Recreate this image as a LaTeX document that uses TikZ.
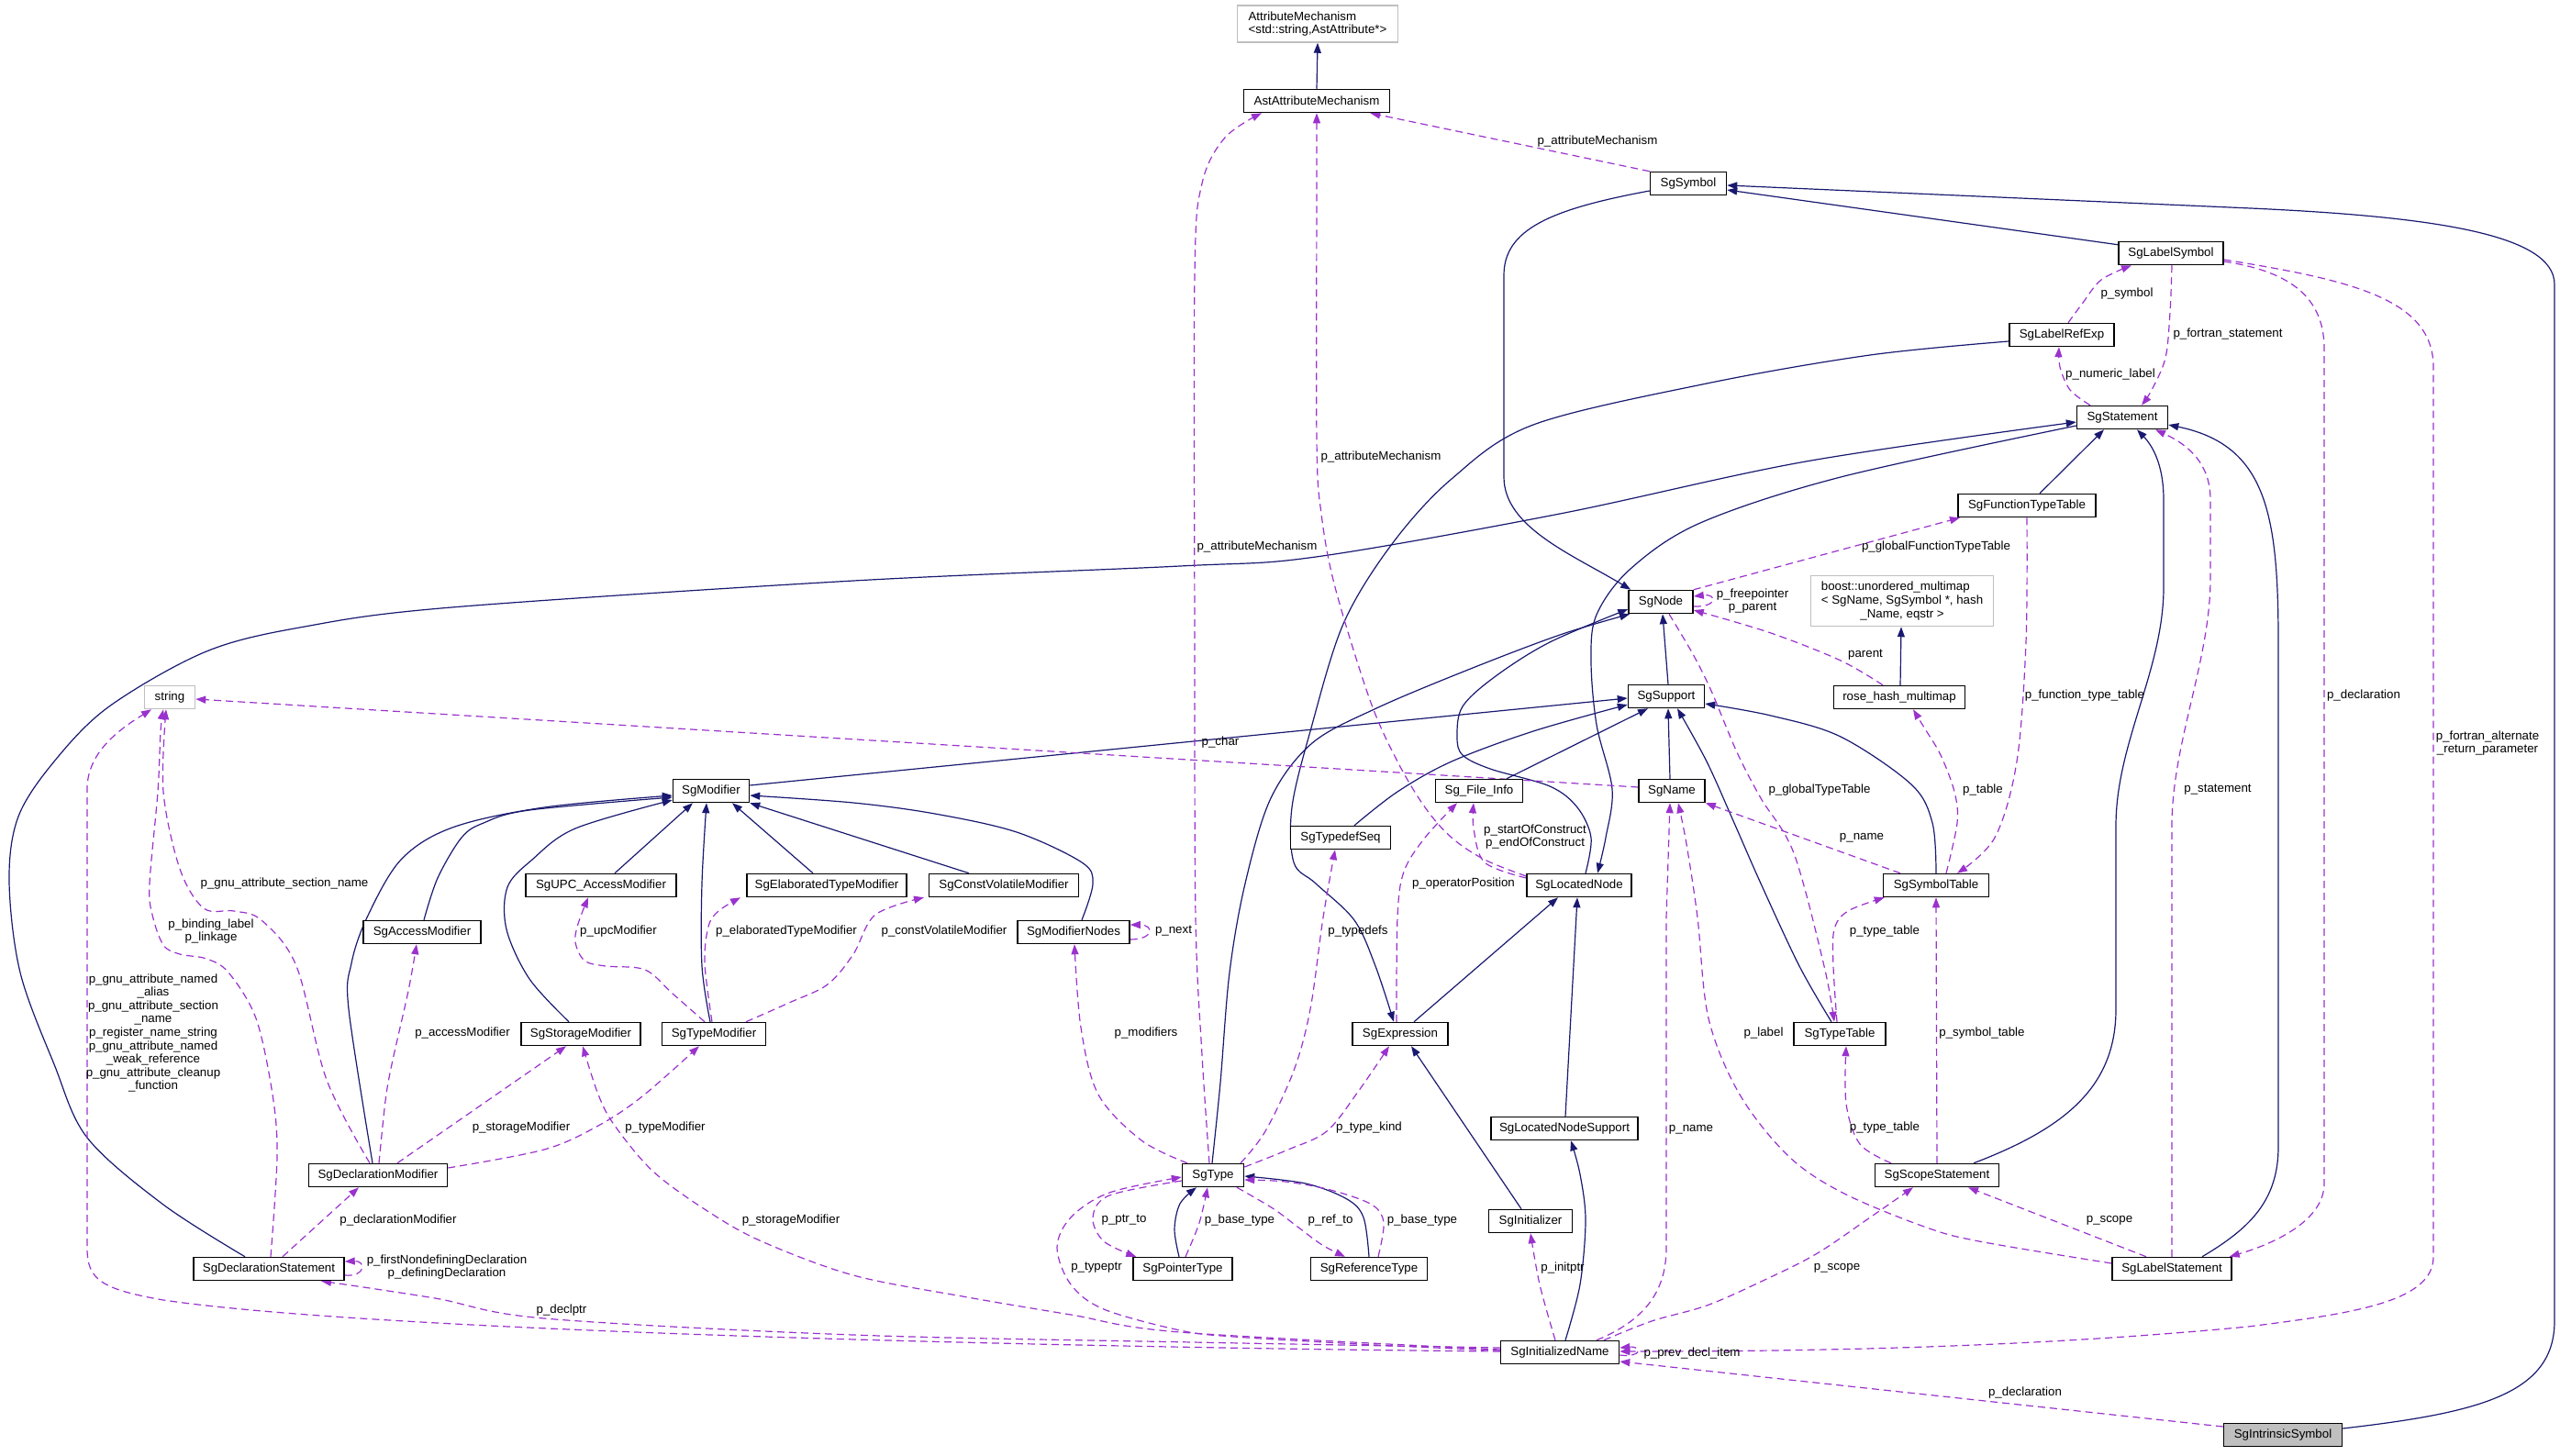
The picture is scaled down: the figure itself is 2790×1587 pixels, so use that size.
\documentclass[tikz,border=0pt]{standalone}
\usepackage{fontspec}
\setmainfont{Liberation Sans}
\usetikzlibrary{arrows.meta}
\definecolor{navyc}{HTML}{191970}
\definecolor{purp}{HTML}{9A32CD}
\newcommand\dfont{\fontsize{13.3}{14.6}\selectfont}
\pgfdeclarelayer{edges}
\pgfsetlayers{edges,main}
\tikzset{
  box/.style={draw=black, line width=1.5pt, fill=white, minimum height=25pt, inner sep=0pt, font=\dfont},
  gbox/.style={box, draw=black!25},
  lbl/.style={inner sep=0pt, font=\dfont, align=center},
  inh/.style={draw=navyc, line width=1.2pt, -{Triangle[length=11pt,width=8pt]}},
  use/.style={draw=purp, line width=1.2pt, dash pattern=on 8pt off 5pt, -{Triangle[length=11pt,width=8pt]}},
  sm/.style={smooth, tension=0.55}
}
\begin{document}
\begin{tikzpicture}[x=1pt, y=-1pt]
\useasboundingbox (0,0) rectangle (2790,1587);
% ---------- nodes ----------
\node[gbox, minimum width=175pt, minimum height=40pt, align=left] (attmech) at (1436,26) {AttributeMechanism\\<std::string,AstAttribute*>};
\node[box, minimum width=159pt] (astatt) at (1435,110) {AstAttributeMechanism};
\node[box, minimum width=83pt] (sgsymbol) at (1840,200) {SgSymbol};
\node[box, minimum width=114pt] (labelsym) at (2366,276) {SgLabelSymbol};
\node[box, minimum width=114pt] (labelref) at (2247,365) {SgLabelRefExp};
\node[box, minimum width=99pt] (stmt) at (2313,455) {SgStatement};
\node[box, minimum width=150pt] (ftt) at (2209,551) {SgFunctionTypeTable};
\node[gbox, minimum width=199pt, minimum height=55pt, align=center] (boost) at (2073,655) {\makebox[0pt][l]{boost::unordered\_multimap}\phantom{< SgName, SgSymbol *, hash}\\< SgName, SgSymbol *, hash\\\_Name, eqstr >};
\node[box, minimum width=143pt] (rose) at (2070,760) {rose\_hash\_multimap};
\node[box, minimum width=115pt] (symtab) at (2110,965) {SgSymbolTable};
\node[box, minimum width=70pt] (sgnode) at (1810,656) {SgNode};
\node[box, minimum width=83pt] (support) at (1816,759) {SgSupport};
\node[box, minimum width=72pt] (sgname) at (1822,862) {SgName};
\node[box, minimum width=95pt] (fileinfo) at (1612,862) {Sg\_File\_Info};
\node[box, minimum width=109pt] (typedefseq) at (1461,913) {SgTypedefSeq};
\node[box, minimum width=114pt] (locnode) at (1721,965) {SgLocatedNode};
\node[gbox, minimum width=55pt] (string) at (185,760) {string};
\node[box, minimum width=83pt] (modifier) at (775,862) {SgModifier};
\node[box, minimum width=164pt] (upc) at (655,965) {SgUPC\_AccessModifier};
\node[box, minimum width=174pt] (elab) at (901,965) {SgElaboratedTypeModifier};
\node[box, minimum width=163pt] (cvmod) at (1094,965) {SgConstVolatileModifier};
\node[box, minimum width=128pt] (access) at (460,1016) {SgAccessModifier};
\node[box, minimum width=122pt] (modnodes) at (1170,1016) {SgModifierNodes};
\node[box, minimum width=130pt] (storage) at (633,1127) {SgStorageModifier};
\node[box, minimum width=113pt] (typemod) at (778,1127) {SgTypeModifier};
\node[box, minimum width=151pt] (declmod) at (412,1281) {SgDeclarationModifier};
\node[box, minimum width=164pt] (declstmt) at (293,1383) {SgDeclarationStatement};
\node[box, minimum width=104pt] (expr) at (1526,1127) {SgExpression};
\node[box, minimum width=67pt] (sgtype) at (1322,1281) {SgType};
\node[box, minimum width=108pt] (ptrtype) at (1289,1383) {SgPointerType};
\node[box, minimum width=127pt] (reftype) at (1492,1383) {SgReferenceType};
\node[box, minimum width=91pt] (initializer) at (1668,1331) {SgInitializer};
\node[box, minimum width=160pt] (lnsupport) at (1705,1230) {SgLocatedNodeSupport};
\node[box, minimum width=129pt] (initname) at (1700,1474) {SgInitializedName};
\node[box, minimum width=100pt] (typetable) at (2005,1127) {SgTypeTable};
\node[box, minimum width=135pt] (scope) at (2111,1281) {SgScopeStatement};
\node[box, minimum width=130pt] (labelstmt) at (2367,1383) {SgLabelStatement};
\node[box, minimum width=129pt, fill=black!25] (intrinsic) at (2488,1564) {SgIntrinsicSymbol};
% ---------- labels ----------
\node[lbl] (l1) at (1741,154) {p\_attributeMechanism};
\node[lbl] (l2) at (1505,498) {p\_attributeMechanism};
\node[lbl] (l3) at (1370,596) {p\_attributeMechanism};
\node[lbl] (l4) at (2318,320) {p\_symbol};
\node[lbl] (l5) at (2428,364) {p\_fortran\_statement};
\node[lbl] (l6) at (2300,408) {p\_numeric\_label};
\node[lbl] (l7) at (2110,596) {p\_globalFunctionTypeTable};
\node[lbl] (l8) at (1910,655) {p\_freepointer\\p\_parent};
\node[lbl] (l9) at (2033,714) {parent};
\node[lbl] (l10) at (2272,758) {p\_function\_type\_table};
\node[lbl] (l11) at (2576,758) {p\_declaration};
\node[lbl] (l12) at (2711,810) {p\_fortran\_alternate\\\_return\_parameter};
\node[lbl] (l13) at (1330,809) {p\_char};
\node[lbl] (l14) at (1983,861) {p\_globalTypeTable};
\node[lbl] (l15) at (2161,861) {p\_table};
\node[lbl] (l16) at (2417,861) {p\_statement};
\node[lbl] (l17) at (1673,912) {p\_startOfConstruct\\p\_endOfConstruct};
\node[lbl] (l18) at (2029,913) {p\_name};
\node[lbl] (l19) at (310,963) {p\_gnu\_attribute\_section\_name};
\node[lbl] (l20) at (1595,963) {p\_operatorPosition};
\node[lbl] (l21) at (230,1015) {p\_binding\_label\\p\_linkage};
\node[lbl] (l22) at (674,1015) {p\_upcModifier};
\node[lbl] (l23) at (857,1015) {p\_elaboratedTypeModifier};
\node[lbl] (l24) at (1029,1015) {p\_constVolatileModifier};
\node[lbl] (l25) at (1279,1015) {p\_next};
\node[lbl] (l26) at (1480,1015) {p\_typedefs};
\node[lbl] (l27) at (2054,1015) {p\_type\_table};
\node[lbl] (l28) at (167,1126) {p\_gnu\_attribute\_named\\\_alias\\p\_gnu\_attribute\_section\\\_name\\p\_register\_name\_string\\p\_gnu\_attribute\_named\\\_weak\_reference\\p\_gnu\_attribute\_cleanup\\\_function};
\node[lbl] (l29) at (504,1126) {p\_accessModifier};
\node[lbl] (l30) at (1249,1126) {p\_modifiers};
\node[lbl] (l31) at (1922,1126) {p\_label};
\node[lbl] (l32) at (2160,1126) {p\_symbol\_table};
\node[lbl] (l33) at (568,1229) {p\_storageModifier};
\node[lbl] (l34) at (725,1229) {p\_typeModifier};
\node[lbl] (l35) at (1492,1229) {p\_type\_kind};
\node[lbl] (l36) at (1843,1231) {p\_name};
\node[lbl] (l37) at (2054,1229) {p\_type\_table};
\node[lbl] (l38) at (434,1330) {p\_declarationModifier};
\node[lbl] (l39) at (862,1330) {p\_storageModifier};
\node[lbl] (l40) at (1225,1330) {p\_ptr\_to};
\node[lbl] (l41) at (1351,1330) {p\_base\_type};
\node[lbl] (l42) at (1450,1330) {p\_ref\_to};
\node[lbl] (l43) at (1550,1330) {p\_base\_type};
\node[lbl] (l44) at (2299,1330) {p\_scope};
\node[lbl] (l45) at (487,1381) {p\_firstNondefiningDeclaration\\p\_definingDeclaration};
\node[lbl] (l46) at (1195,1382) {p\_typeptr};
\node[lbl] (l47) at (1703,1382) {p\_initptr};
\node[lbl] (l48) at (2002,1382) {p\_scope};
\node[lbl] (l49) at (612,1428) {p\_declptr};
\node[lbl] (l50) at (1844,1475) {p\_prev\_decl\_item};
\node[lbl] (l51) at (2207,1518) {p\_declaration};
% ---------- edges ----------
\begin{pgfonlayer}{edges}
% inheritance (solid)
\draw[inh] (astatt.north) -- (attmech.south);
\draw[inh] ([yshift=-4pt]labelsym.north west) -- ([yshift=-7pt]sgsymbol.east);
\draw[inh] ([yshift=7pt]intrinsic.east) .. controls (2700,1540) and (2784,1520) .. (2784,1440) -- (2784,310) .. controls (2784,255) and (2650,236) .. (2453,227) -- ([yshift=-2pt]sgsymbol.east);
\draw[inh] ([yshift=-8pt]sgsymbol.west) .. controls (1690,228) and (1639,250) .. (1639,300) -- (1639,520) .. controls (1639,575) and (1715,605) .. ([xshift=3pt]sgnode.north west);
\draw[inh] plot[sm] coordinates {([yshift=-7pt]labelref.west) (2038,387) (1860,418) (1671,463) (1582,522) (1517,593) (1464,680) (1428,797) (1408,880) (1410,940) (1434,963) (1476,1003) (1499,1053) ([xshift=-7pt]expr.north)};
\draw[inh] plot[sm] coordinates {([yshift=-9pt]stmt.west) (2006,520) (1853,570) (1777,620) (1740,670) (1734,720) (1740,790) (1757,860) (1750,913) ([xshift=20pt]locnode.north)};
\draw[inh] ([xshift=2pt]support.north) -- ([xshift=2pt]sgnode.south);
\draw[inh] plot[sm] coordinates {([xshift=7pt]locnode.north) (1734,913) (1719,880) (1689,857) (1624,838) (1594,823) (1588,803) (1594,770) (1630,737) (1689,700) ([yshift=-8pt]sgnode.west)};
\draw[inh] plot[sm] coordinates {([xshift=-1pt]sgtype.north) (1330,1180) (1340,1060) (1357,963) (1385,870) (1430,810) (1500,772) (1600,730) (1700,692) ([xshift=2pt]sgnode.south west)};
\draw[inh] plot[sm] coordinates {([xshift=15pt]typedefseq.north) (1523,863) (1582,830) (1671,797) ([yshift=-9pt]support.west)};
\draw[inh] ([xshift=30pt]fileinfo.north) -- ([xshift=-20pt]support.south);
\draw[inh] ([yshift=6pt]modifier.east) -- ([yshift=-2pt]support.west);
\draw[inh] ([xshift=-2pt]sgname.north) -- ([xshift=2pt]support.south);
\draw[inh] plot[sm] coordinates {([xshift=-9pt]typetable.north) (1961,1053) (1919,963) (1890,897) (1860,830) ([xshift=12pt]support.south)};
\draw[inh] plot[sm] coordinates {(symtab.north) (2106,897) (2083,855) (2006,803) (1930,780) ([yshift=-8pt]support.east)};
\draw[inh] plot[sm] coordinates {([xshift=-6pt]declmod.north) (380,1100) (383,1050) (400,1000) (437,937) (493,902) (593,880) ([yshift=-5pt]modifier.west)};
\draw[inh] plot[sm] coordinates {([xshift=2pt]access.north) (477,957) (503,913) (527,897) (577,883) ([yshift=-7pt]modifier.west)};
\draw[inh] plot[sm] coordinates {([xshift=-13pt]storage.north) (577,1067) (552,1013) (553,967) (580,937) (627,903) ([yshift=-10pt]modifier.west)};
\draw[inh] ([xshift=15pt]upc.north) -- ([xshift=-20pt]modifier.south);
\draw[inh] plot[sm] coordinates {([xshift=-4pt]typemod.north) (765,1053) (765,963) ([xshift=-5pt]modifier.south)};
\draw[inh] ([xshift=-15pt]elab.north) -- ([xshift=23pt]modifier.south);
\draw[inh] ([xshift=-38pt]cvmod.north) -- (modifier.south east);
\draw[inh] plot[sm] coordinates {([xshift=9pt]modnodes.north) (1191,963) (1179,940) (1108,907) (1019,887) (930,875) ([yshift=-5pt]modifier.east)};
\draw[inh] ([xshift=15pt]expr.north) -- ([xshift=-23pt]locnode.south);
\draw[inh] ([xshift=1pt]lnsupport.north) -- ([xshift=-2pt]locnode.south);
\draw[inh] ([xshift=-10pt]initializer.north) -- ([xshift=12pt]expr.south);
\draw[inh] plot[sm] coordinates {([xshift=6pt]initname.north) (1722,1400) (1728,1330) (1722,1280) ([xshift=7pt]lnsupport.south)};
\draw[inh] plot[sm] coordinates {([xshift=-4pt]ptrtype.north) (1280,1340) (1286,1312) ([xshift=-18pt]sgtype.south)};
\draw[inh] plot[sm] coordinates {(reftype.north) (1486,1327) (1468,1307) (1423,1290) ([yshift=-1pt]sgtype.east)};
\draw[inh] ([xshift=40pt]scope.north) .. controls (2250,1230) and (2306,1185) .. (2306,1100) -- (2306,900) .. controls (2306,810) and (2358,730) .. (2358,640) -- (2358,545) .. controls (2358,505) and (2345,485) .. ([xshift=16pt]stmt.south);
\draw[inh] ([xshift=33pt]labelstmt.north) .. controls (2450,1340) and (2483,1310) .. (2483,1250) -- (2483,700) .. controls (2483,560) and (2470,485) .. ([yshift=-8pt]stmt.east);
\draw[inh] ([xshift=14pt]ftt.north) -- ([xshift=-20pt]stmt.south);
\draw[inh] plot[sm] coordinates {([xshift=-26pt]declstmt.north) (178,1313) (95,1240) (59,1160) (22,1060) (10,960) (20,890) (59,830) (119,770) (225,710) (332,683) (492,662) (930,633) (1286,617) (1434,607) (1700,560) (1968,503) ([yshift=-5pt]stmt.west)};
\draw[inh] ([xshift=1pt]rose.north) -- ([xshift=-1pt]boost.south);
% usage (dashed)
\draw[use] (sgsymbol.north west) -- ([xshift=-22pt]astatt.south east);
\draw[use] plot[sm] coordinates {([xshift=-4pt]sgtype.north) (1310,1150) (1303,1000) (1302,700) (1302,300) (1310,200) (1335,150) ([xshift=-60pt]astatt.south)};
\draw[use] plot[sm] coordinates {([yshift=10pt]locnode.west) (1618,937) (1582,913) (1553,880) (1523,830) (1493,763) (1455,640) (1440,560) (1435,480) (1435,200) (astatt.south)};
\draw[use] plot[sm] coordinates {([xshift=30pt]sgtype.north) (1379,1233) (1410,1167) (1428,1100) (1442,1000) ([xshift=-6pt]typedefseq.south)};
\draw[use] plot[sm] coordinates {([xshift=-4pt]expr.north) (1523,1000) (1530,950) (1553,913) ([xshift=-24pt]fileinfo.south)};
\draw[use] plot[sm] coordinates {([yshift=8pt]locnode.west) (1618,940) (1606,903) ([xshift=-6pt]fileinfo.south)};
\draw[use] plot[sm] coordinates {([xshift=-28pt]sgtype.north) (1244,1243) (1197,1193) (1178,1120) ([xshift=1pt]modnodes.south)};
\draw[use] plot[sm] coordinates {([yshift=9pt]sgtype.east) (1404,1253) (1446,1233) (1480,1190) ([xshift=-12pt]expr.south)};
\draw[use] plot[sm] coordinates {([yshift=-6pt]sgtype.west) (1209,1303) (1191,1327) (1203,1353) ([xshift=4pt]ptrtype.north west)};
\draw[use] plot[sm] coordinates {([xshift=3pt]ptrtype.north) (1307,1333) ([xshift=-6pt]sgtype.south)};
\draw[use] plot[sm] coordinates {([xshift=26pt]sgtype.south) (1387,1317) (1414,1337) (1441,1357) ([xshift=-26pt]reftype.north)};
\draw[use] plot[sm] coordinates {([xshift=10pt]reftype.north) (1508,1333) (1495,1313) (1450,1297) (1401,1288) ([yshift=-5pt]sgtype.east)};
\draw[use] plot[sm] coordinates {([yshift=2pt]initname.west) (1500,1466) (1345,1457) (1286,1450) (1203,1427) (1167,1400) (1152,1360) (1167,1327) (1209,1300) ([yshift=-2pt]sgtype.west)};
\draw[use] plot[sm] coordinates {([xshift=-5pt]initname.north) (1678,1400) (initializer.south)};
\draw[use] ([xshift=40pt]initname.north) .. controls (1790,1440) and (1816,1410) .. (1816,1360) -- (1816,1000) -- ([xshift=-2pt]sgname.south);
\draw[use] plot[sm] coordinates {([yshift=6pt]labelstmt.west) (2157,1353) (2097,1337) (2008,1300) (1949,1260) (1896,1193) (1862,1110) (1850,1000) (1838,920) ([xshift=7pt]sgname.south)};
\draw[use] ([yshift=-3pt]initname.east) .. controls (1790,1480) and (1790,1467) .. ([yshift=5pt]initname.east);
\draw[use] ([yshift=9pt]intrinsic.west) -- ([yshift=-10pt]initname.east);
\draw[use] ([yshift=-7pt]labelsym.east) .. controls (2560,305) and (2652,325) .. (2652,400) -- (2652,1370) .. controls (2652,1420) and (2560,1432) .. (2450,1446) .. controls (2200,1470) and (1950,1473) .. ([yshift=1pt]initname.east);
\draw[use] ([yshift=-9pt]labelsym.east) .. controls (2490,295) and (2533,320) .. (2533,380) -- (2533,1290) .. controls (2533,1330) and (2480,1355) .. ([xshift=-3pt]labelstmt.north east);
\draw[use] plot[sm] coordinates {([xshift=7pt]labelref.north) (2270,330) (2290,305) ([xshift=-43pt]labelsym.south)};
\draw[use] plot[sm] coordinates {([xshift=1pt]labelsym.south) (2365,340) (2360,390) (2345,425) ([xshift=21pt]stmt.north)};
\draw[use] plot[sm] coordinates {([xshift=-35pt]stmt.north) (2256,425) (2245,400) ([xshift=-3pt]labelref.south)};
\draw[use] (labelstmt.north) -- (2367,900) .. controls (2367,810) and (2409,720) .. (2409,630) -- (2409,545) .. controls (2409,505) and (2385,485) .. ([xshift=36pt]stmt.south);
\draw[use] (sgnode.north east) -- ([xshift=-73pt]ftt.south);
\draw[use] ([yshift=-5pt]sgnode.east) .. controls (1872,662) and (1872,647) .. ([yshift=6pt]sgnode.east);
\draw[use] plot[sm] coordinates {([xshift=-18pt]rose.north) (2006,720) (1930,690) ([yshift=-9pt]sgnode.east)};
\draw[use] plot[sm] coordinates {([xshift=9pt]sgnode.south) (1845,713) (1865,753) (1893,820) (1919,870) (1955,930) (1988,1053) ([xshift=-6pt]typetable.north)};
\draw[use] plot[sm] coordinates {([xshift=11pt]symtab.north) (2133,897) (2130,863) (2115,823) (2097,793) ([xshift=15pt]rose.south)};
\draw[use] plot[sm] coordinates {(ftt.south) (2208,700) (2198,830) (2174,913) ([xshift=23pt]symtab.north)};
\draw[use] ([xshift=-39pt]symtab.north) -- (sgname.south east);
\draw[use] plot[sm] coordinates {([xshift=-3pt]typetable.north) (1998,1053) (1999,1013) (2014,993) ([xshift=2pt]symtab.south west)};
\draw[use] (scope.north) -- (symtab.south);
\draw[use] plot[sm] coordinates {([xshift=-50pt]scope.north) (2027,1247) (2012,1203) ([xshift=7pt]typetable.south)};
\draw[use] ([xshift=-28pt]labelstmt.north) -- ([xshift=34pt]scope.south);
\draw[use] plot[sm] coordinates {([xshift=48pt]initname.north) (1800,1440) (1860,1423) (1919,1397) (1979,1367) (2038,1327) ([xshift=-26pt]scope.south)};
\draw[use] ([xshift=21pt]declmod.north) -- ([xshift=-16pt]storage.south);
\draw[use] plot[sm] coordinates {([yshift=8pt]declmod.east) (593,1253) (652,1227) (700,1195) ([xshift=-16pt]typemod.south)};
\draw[use] plot[sm] coordinates {([xshift=1pt]declmod.north) (420,1200) (427,1160) (445,1080) ([xshift=-6pt]access.south)};
\draw[use] plot[sm] coordinates {([xshift=-10pt]typemod.north) (733,1083) (703,1057) (660,1053) (637,1047) (627,1027) (630,1007) ([xshift=-14pt]upc.south)};
\draw[use] plot[sm] coordinates {([xshift=-2pt]typemod.north) (768,1050) (772,1010) (783,993) ([xshift=-94pt]elab.south)};
\draw[use] plot[sm] coordinates {([xshift=35pt]typemod.north) (860,1093) (902,1073) (930,1040) (954,997) ([xshift=-87pt]cvmod.south)};
\draw[use] ([xshift=15pt]declstmt.north) -- ([xshift=-21pt]declmod.south);
\draw[use] ([yshift=-7pt]declstmt.east) .. controls (399,1392) and (399,1374) .. ([yshift=8pt]declstmt.east);
\draw[use] ([yshift=-8pt]modnodes.east) .. controls (1258,1024) and (1258,1008) .. ([yshift=8pt]modnodes.east);
\draw[use] plot[sm] coordinates {([yshift=5pt]initname.west) (1300,1463) (930,1455) (593,1437) (474,1415) ([xshift=57pt]declstmt.south)};
\draw[use] plot[sm] coordinates {([yshift=3pt]initname.west) (1286,1452) (1167,1433) (1049,1413) (930,1390) (830,1353) (771,1320) (712,1277) (670,1227) (652,1193) ([xshift=2pt]storage.south)};
\draw[use] ([yshift=1pt]initname.west) .. controls (1100,1468) and (400,1450) .. (178,1417) .. controls (110,1405) and (95,1395) .. (95,1360) -- (95,860) .. controls (95,820) and (130,795) .. ([xshift=-20pt]string.south);
\draw[use] plot[sm] coordinates {([xshift=2pt]declstmt.north) (302,1260) (297,1193) (279,1110) (249,1060) (225,1045) (196,1040) (178,1030) (166,997) (163,963) (172,863) (175,797) ([xshift=-7pt]string.south)};
\draw[use] plot[sm] coordinates {([xshift=-9pt]declmod.north) (356,1177) (323,1053) (285,1003) (255,993) (222,990) (196,947) (178,863) ([xshift=-4pt]string.south)};
\draw[use] ([yshift=4pt]sgname.west) -- ([yshift=-2pt]string.east);
\end{pgfonlayer}
\end{tikzpicture}
\end{document}
